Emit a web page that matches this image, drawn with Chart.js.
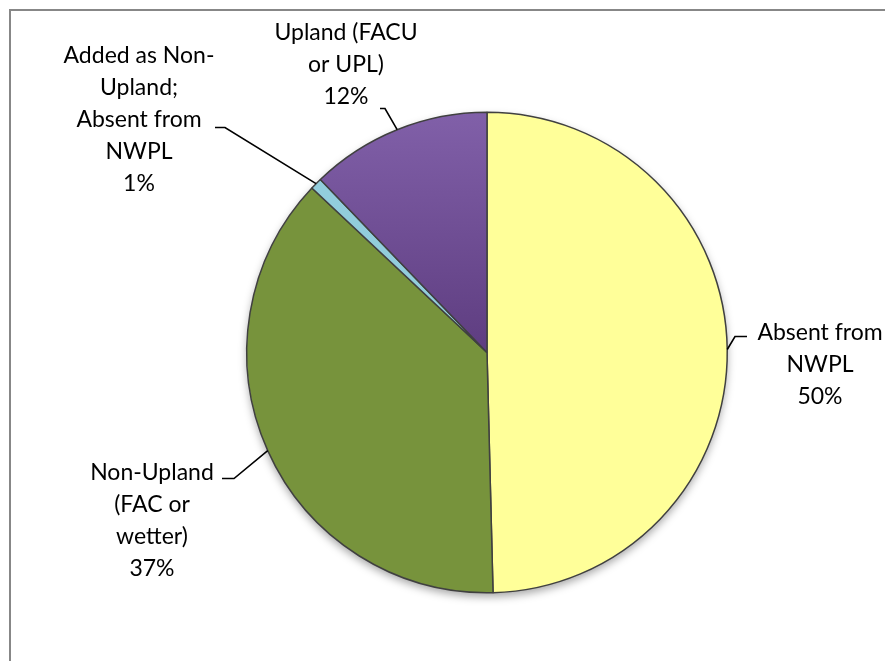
<!DOCTYPE html>
<html>
<head>
<meta charset="utf-8">
<style>
  html, body { margin: 0; padding: 0; background: #fff; overflow: hidden; }
  #wrap { width: 885px; height: 661px; position: relative; }
</style>
<script src="https://cdn.jsdelivr.net/npm/chart.js@4"></script>
</head>
<body>
<div id="wrap"><canvas id="pieChart" width="885" height="661"></canvas></div>
<script>
// categories and values (clockwise from 12 o'clock)
const categories = [
    'Absent from NWPL',
    'Non-Upland (FAC or wetter)',
    'Added as Non-Upland; Absent from NWPL',
    'Upland (FACU or UPL)'
];
const percentages = [49.6, 37.4, 0.8, 12.2];
const shownPercent = ['50%', '37%', '1%', '12%'];
const labelLines = [
    ['Absent from', 'NWPL'],
    ['Non-Upland', '(FAC or', 'wetter)'],
    ['Added as Non-', 'Upland;', 'Absent from', 'NWPL'],
    ['Upland (FACU', 'or UPL)']
];

// label placement, offsets from the pie centre in px
const labelLayout = [
    { text: [333, -20], elbow: [248, -16], tail: [260, -16] },
    { text: [-335, 120], elbow: [-253, 126], tail: [-265, 126] },
    { text: [-348, -297], elbow: [-262, -225], tail: [-272, -225] },
    { text: [-141, -320], elbow: [-102, -244], tail: [-107, -244] }
];

const sliceColors = ['#ffff99', '#77933c', '#92cddc', null];
const FONT = '23px Lato, "Open Sans", sans-serif';

function sliceColor(context) {
    const c = sliceColors[context.dataIndex];
    if (c) return c;
    // the purple slice has a vertical gradient, lighter at the rim
    const chart = context.chart;
    const area = chart.chartArea;
    if (!area) return '#7050a0';
    const cy = (area.top + area.bottom) / 2;
    const g = chart.ctx.createLinearGradient(0, area.top, 0, cy);
    g.addColorStop(0, '#8160a9');
    g.addColorStop(1, '#5e3d80');
    return g;
}

// outer frame and drop shadow behind the pie
const framePlugin = {
    id: 'frame',
    beforeDatasetsDraw(chart) {
        const ctx = chart.ctx;
        ctx.save();
        ctx.strokeStyle = '#878787';
        ctx.lineWidth = 2;
        ctx.beginPath();
        ctx.moveTo(10, 700);
        ctx.lineTo(10, 10);
        ctx.lineTo(900, 10);
        ctx.stroke();

        const arc = chart.getDatasetMeta(0).data[0];
        if (arc) {
            ctx.shadowColor = 'rgba(0,0,0,0.35)';
            ctx.shadowBlur = 9;
            ctx.shadowOffsetY = 4;
            ctx.fillStyle = '#fff';
            ctx.beginPath();
            ctx.arc(arc.x, arc.y, arc.outerRadius, 0, Math.PI * 2);
            ctx.fill();
        }
        ctx.restore();
    }
};

// category labels with leader lines
const labelPlugin = {
    id: 'pieLabels',
    afterDatasetsDraw(chart) {
        const ctx = chart.ctx;
        const arcs = chart.getDatasetMeta(0).data;
        ctx.save();
        arcs.forEach((arc, i) => {
            const lay = labelLayout[i];
            const cx = arc.x, cy = arc.y;
            const mid = (arc.startAngle + arc.endAngle) / 2;
            const sx = cx + Math.cos(mid) * arc.outerRadius;
            const sy = cy + Math.sin(mid) * arc.outerRadius;

            ctx.strokeStyle = '#000';
            ctx.lineWidth = 1.6;
            ctx.beginPath();
            ctx.moveTo(sx, sy);
            ctx.lineTo(cx + lay.elbow[0], cy + lay.elbow[1]);
            ctx.lineTo(cx + lay.tail[0], cy + lay.tail[1]);
            ctx.stroke();

            const lines = labelLines[i].concat([shownPercent[i]]);
            ctx.fillStyle = '#000';
            ctx.font = FONT;
            ctx.textAlign = 'center';
            ctx.textBaseline = 'middle';
            lines.forEach((t, k) => {
                ctx.fillText(t, cx + lay.text[0], cy + lay.text[1] + k * 32);
            });
        });
        ctx.restore();
    }
};

new Chart(document.getElementById('pieChart'), {
    type: 'pie',
    data: {
        labels: categories,
        datasets: [{
            data: percentages,
            backgroundColor: sliceColor,
            borderColor: '#404040',
            borderWidth: 1.5
        }]
    },
    options: {
        responsive: false,
        animation: false,
        layout: { padding: { top: 111, bottom: 67, left: 246, right: 157 } },
        plugins: {
            legend: { display: false },
            tooltip: { enabled: false }
        }
    },
    plugins: [framePlugin, labelPlugin]
});
</script>
</body>
</html>
